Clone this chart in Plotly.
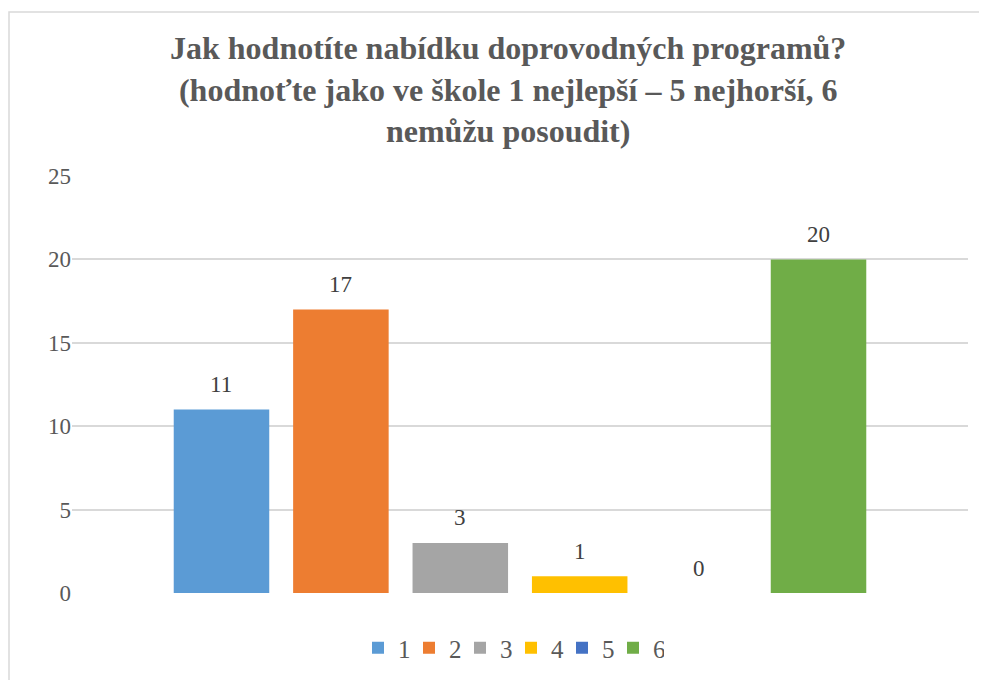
import plotly.graph_objects as go

series_names = ["1", "2", "3", "4", "5", "6"]
values = [11, 17, 3, 1, 0, 20]
colors = ["#5B9BD5", "#ED7D31", "#A5A5A5", "#FFC000", "#4472C4", "#70AD47"]
title_text = ("<b>Jak hodnotíte nabídku doprovodných programů?<br>"
              "(hodnoťte jako ve škole 1 nejlepší – 5 nejhorší, 6<br>"
              "nemůžu posoudit)</b>")
y_ticks = [0, 5, 10, 15, 20, 25]

FONT = "Liberation Serif, Times New Roman, serif"

fig = go.Figure()
for i, (name, v, c) in enumerate(zip(series_names, values, colors)):
    fig.add_trace(go.Bar(
        x=[i], y=[v], name=name, width=0.8,
        marker=dict(color=c, line=dict(width=0)),
        hoverinfo="skip",
    ))
    fig.add_annotation(x=i, y=v, text=str(v), showarrow=False,
                       yanchor="middle", yshift=25,
                       font=dict(family=FONT, size=23, color="#404040"))

# page has an 8px body margin: figure coordinates = page coordinates - 8
W, H = 979, 672
L, R, T, B = 64, 19, 168, 87
pw = W - L - R
ph = H - T - B

# chart title as a paper-anchored text block
fig.add_annotation(xref="paper", yref="paper", x=(500 - L) / pw,
                   y=(585 - 82) / ph, xanchor="center", yanchor="middle",
                   text=title_text, showarrow=False, align="center",
                   font=dict(family=FONT, size=32, color="#595959"))

fig.update_layout(
    width=W, height=H,
    margin=dict(l=L, r=R, t=T, b=B, autoexpand=False),
    paper_bgcolor="white", plot_bgcolor="white",
    barmode="overlay",
    xaxis=dict(range=[-1.252, 6.252], showticklabels=False, showgrid=False,
               zeroline=False, showline=False, ticks=""),
    yaxis=dict(range=[0, 25], tickvals=y_ticks, showgrid=True,
               gridcolor="#D9D9D9", gridwidth=1.5, zeroline=False,
               showline=False, ticks="", ticklen=0,
               tickfont=dict(family=FONT, size=23, color="#595959")),
    legend=dict(orientation="h", x=(503 - L) / pw, xanchor="center",
                y=(585 - 640) / ph, yanchor="middle",
                entrywidth=6, entrywidthmode="pixels",
                font=dict(family=FONT, size=25, color="#595959"),
                itemclick=False, itemdoubleclick=False),
    showlegend=True,
)

fig.add_shape(type="rect", xref="paper", yref="paper",
              x0=(1 - L) / pw, x1=(1000 - L) / pw,
              y0=(585 - 700) / ph, y1=(585 - 4) / ph,
              line=dict(color="#D9D9D9", width=1.5), fillcolor="rgba(0,0,0,0)",
              layer="below")

fig.write_html("out.html")
